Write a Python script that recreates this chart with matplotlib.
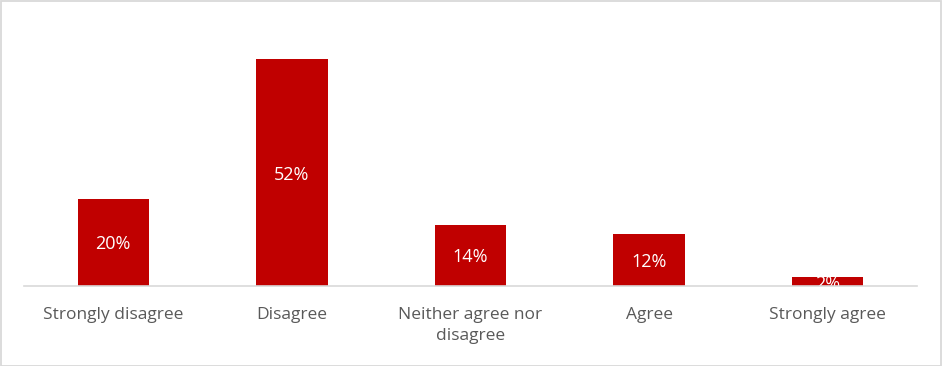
import matplotlib
matplotlib.use("Agg")
import matplotlib.pyplot as plt
from matplotlib.patches import Rectangle

categories = ["Strongly disagree", "Disagree", "Neither agree nor\ndisagree", "Agree", "Strongly agree"]
values = [20, 52, 14, 12, 2]
labels = ["20%", "52%", "14%", "12%", "2%"]

plt.rcParams['font.family'] = ['Open Sans', 'DejaVu Sans']

fig = plt.figure(figsize=(9.42, 3.66), dpi=100)
ax = fig.add_axes([24/942, 80/366, 893/942, (286-15)/366])

x = list(range(len(categories)))
bars = ax.bar(x, values, width=0.4, color="#C00000", zorder=2)
for xi, v, lab in zip(x, values, labels):
    ax.text(xi, v/2, lab, ha="center", va="center_baseline", color="white",
            fontsize=13, fontweight="medium", zorder=2.5)

ax.set_xlim(-0.5, 4.5)
ax.set_ylim(0, 52*(286-15)/227)
ax.set_xticks(x)
ax.set_xticklabels(categories, color="#595959", fontsize=12.5, linespacing=1.45)
ax.tick_params(axis="x", length=0, pad=15)
ax.set_yticks([])
for s in ["top", "right", "left"]:
    ax.spines[s].set_visible(False)
ax.spines["bottom"].set_color("#D9D9D9")
ax.spines["bottom"].set_linewidth(1.2)
ax.spines["bottom"].set_zorder(3)

fig.patches.append(Rectangle((0.5/942, 0.5/366), 1-1.5/942, 1-1.5/366, transform=fig.transFigure,
                             fill=False, edgecolor="#D9D9D9", linewidth=1.3))

fig.savefig("out.png", dpi=100)
